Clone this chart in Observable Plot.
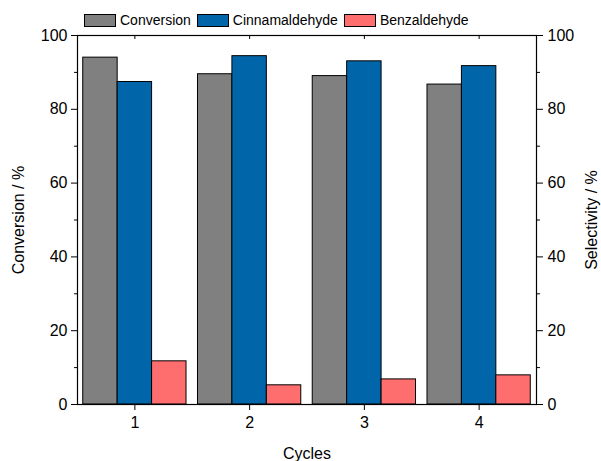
<!DOCTYPE html>
<html>
<head>
<meta charset="utf-8">
<script src="https://cdn.jsdelivr.net/npm/d3@7"></script>
<script src="https://cdn.jsdelivr.net/npm/@observablehq/plot@0.6"></script>
<style>
  html, body { margin: 0; padding: 0; background: #fff; }
  #wrap { position: relative; width: 601px; height: 461px; font-family: "Liberation Sans", Arial, sans-serif; }
  #legend { position: absolute; left: 84px; top: 12px; display: flex; align-items: center; font-size: 14px; color: #000; }
  .item { display: flex; align-items: center; margin-right: 6px; }
  .sw { width: 30px; height: 11px; border: 1px solid #000; margin-right: 4px; }
</style>
</head>
<body>
<div id="wrap"><div id="legend"></div></div>
<script>
const cycles = [1, 2, 3, 4];
const conversion = [94.0, 89.5, 89.0, 86.7];
const cinnamaldehyde = [87.4, 94.4, 93.0, 91.7];
const benzaldehyde = [11.7, 5.2, 6.8, 7.9];
const seriesNames = ["Conversion", "Cinnamaldehyde", "Benzaldehyde"];
const seriesColors = ["#808080", "#0066A9", "#FF6E6E"];
const majorTicks = [0, 20, 40, 60, 80, 100];
const minorTicks = [10, 30, 50, 70, 90];

const seriesValues = [conversion, cinnamaldehyde, benzaldehyde];
const rows = [];
seriesValues.forEach((vals, k) => {
  vals.forEach((v, i) => rows.push({cycle: cycles[i], series: seriesNames[k], k, value: v}));
});

const groupWidth = 0.9;
const barW = groupWidth / seriesNames.length;

const chart = Plot.plot({
  width: 601,
  height: 461,
  marginTop: 35,
  marginBottom: 57,
  marginLeft: 77,
  marginRight: 65,
  style: {fontFamily: "Liberation Sans, Arial, sans-serif", fontSize: "16px", color: "#000", background: "#fff"},
  x: {domain: [0.5, 4.5]},
  y: {domain: [0, 100]},
  color: {domain: seriesNames, range: seriesColors},
  marks: [
    Plot.rectY(rows, {
      x1: d => d.cycle - groupWidth / 2 + d.k * barW,
      x2: d => d.cycle - groupWidth / 2 + (d.k + 1) * barW,
      y1: 0, y2: "value",
      fill: "series", stroke: "#000", strokeWidth: 1
    }),
    Plot.frame({stroke: "#000", strokeWidth: 1.2}),
    Plot.axisY({anchor: "left", ticks: majorTicks, tickSize: 6, tickPadding: 4, label: "Conversion / %", labelAnchor: "center", labelOffset: 65, labelArrow: "none"}),
    Plot.axisY({anchor: "left", ticks: minorTicks, tickSize: 3, tickFormat: () => "", label: null}),
    Plot.axisY({anchor: "right", ticks: majorTicks, tickSize: 6, tickPadding: 5, label: "Selectivity / %", labelAnchor: "center", labelOffset: 60, labelArrow: "none"}),
    Plot.axisY({anchor: "right", ticks: minorTicks, tickSize: 3, tickFormat: () => "", label: null}),
    Plot.axisX({anchor: "bottom", ticks: cycles, tickSize: 6, tickPadding: 6, tickFormat: d => String(d), label: "Cycles", labelAnchor: "center", labelOffset: 54, labelArrow: "none"}),
    Plot.axisX({anchor: "top", ticks: cycles, tickSize: -3, tickFormat: () => "", label: null})
  ]
});
document.getElementById("wrap").appendChild(chart);

const legend = document.getElementById("legend");
seriesNames.forEach((name, k) => {
  const item = document.createElement("div");
  item.className = "item";
  const sw = document.createElement("div");
  sw.className = "sw";
  sw.style.background = seriesColors[k];
  const t = document.createElement("span");
  t.textContent = name;
  item.appendChild(sw); item.appendChild(t);
  legend.appendChild(item);
});
</script>
</body>
</html>
